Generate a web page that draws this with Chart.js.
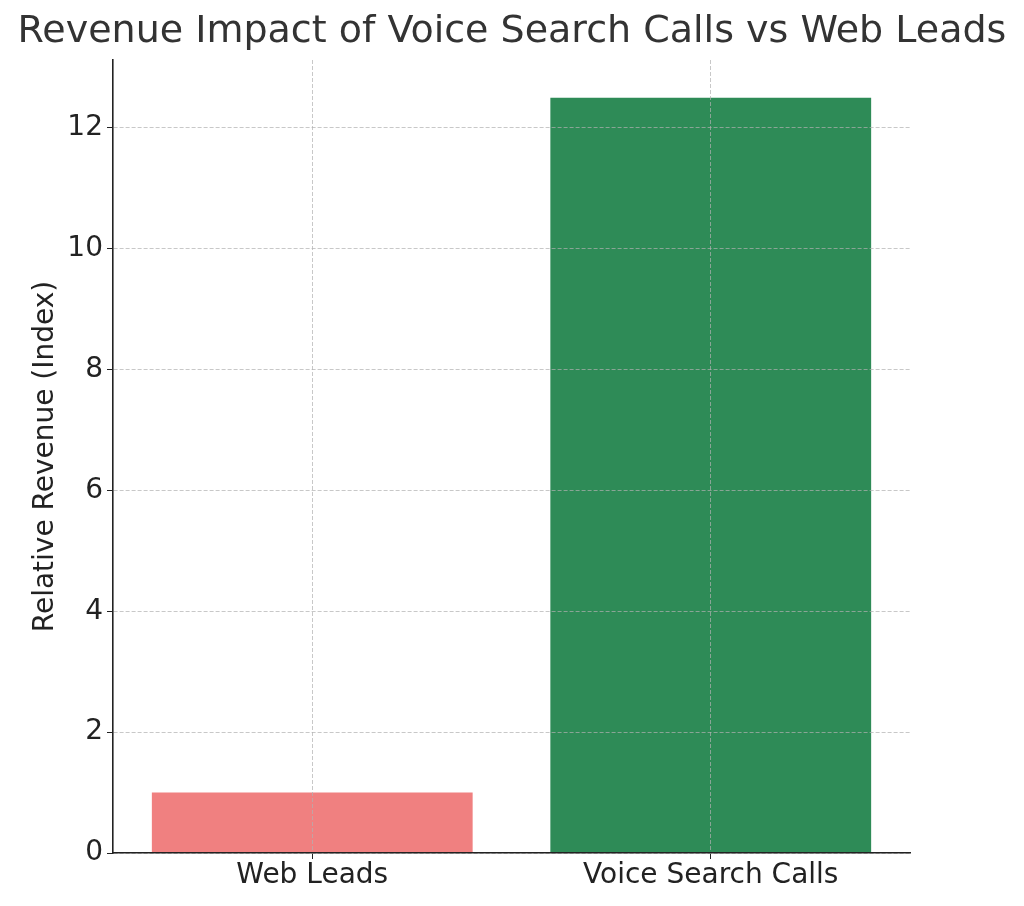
<!DOCTYPE html>
<html>
<head>
<meta charset="utf-8">
<script src="https://cdn.jsdelivr.net/npm/chart.js@4/dist/chart.umd.min.js"></script>
<style>
  html, body { margin: 0; padding: 0; background: #fff; }
  #wrap { width: 1024px; height: 906px; }
</style>
</head>
<body>
<div id="wrap"><canvas id="revenueChart" width="1024" height="906"></canvas></div>
<script>
// data
const categories = ['Web Leads', 'Voice Search Calls'];
const revenueIndex = [1.0, 12.5];
const barColors = ['#F08080', '#2E8B57'];
const yTicks = [0, 2, 4, 6, 8, 10, 12];

const ctx = document.getElementById('revenueChart').getContext('2d');
const gridColor = 'rgba(176,176,176,0.7)';
const axisColor = '#222';

new Chart(ctx, {
    type: 'bar',
    data: {
        labels: categories,
        datasets: [{
            data: revenueIndex,
            backgroundColor: barColors,
            borderWidth: 0,
            categoryPercentage: 1.0,
            barPercentage: 0.805
        }]
    },
    options: {
        responsive: false,
        animation: false,
        devicePixelRatio: 1,
        layout: { padding: 0 },
        plugins: {
            legend: { display: false },
            tooltip: { enabled: false },
            title: {
                display: true,
                text: 'Revenue Impact of Voice Search Calls vs Web Leads',
                color: '#333',
                font: { family: 'DejaVu Sans', size: 38, weight: 'normal', lineHeight: 1.2 },
                padding: { top: 9, bottom: 5.4 }
            }
        },
        scales: {
            x: {
                z: 1,
                offset: true,
                grid: {
                    z: 1,
                    offset: false,
                    color: gridColor,
                    tickColor: axisColor,
                    tickBorderDash: [],
                    tickLength: 6,
                    lineWidth: 1
                },
                border: { display: true, color: axisColor, width: 1.6, dash: [4, 2], z: 2 },
                ticks: {
                    color: '#222',
                    padding: 3,
                    font: { family: 'DejaVu Sans', size: 28, lineHeight: 1.0 }
                },
                afterFit: (scale) => { scale.height = 53; }
            },
            y: {
                z: 1,
                min: 0,
                max: 13.125,
                afterBuildTicks: (scale) => { scale.ticks = yTicks.map(v => ({ value: v })); },
                grid: {
                    z: 1,
                    color: gridColor,
                    tickColor: axisColor,
                    tickBorderDash: [],
                    tickLength: 6,
                    lineWidth: 1
                },
                border: { display: true, color: axisColor, width: 1.6, dash: [4, 2], z: 2 },
                ticks: {
                    color: '#222',
                    padding: 4,
                    font: { family: 'DejaVu Sans', size: 28 }
                },
                title: {
                    display: true,
                    text: 'Relative Revenue (Index)',
                    color: '#222',
                    font: { family: 'DejaVu Sans', size: 28, lineHeight: 1.2 },
                    padding: { top: 29, bottom: 0 }
                },
                afterFit: (scale) => { scale.width = 113; }
            },
            // empty right-hand axis only to keep the white margin on the right
            spacer: {
                type: 'linear',
                position: 'right',
                display: true,
                grid: { display: false, drawOnChartArea: false },
                border: { display: false },
                ticks: { display: false },
                afterFit: (scale) => { scale.width = 114; }
            }
        }
    }
});
</script>
</body>
</html>
